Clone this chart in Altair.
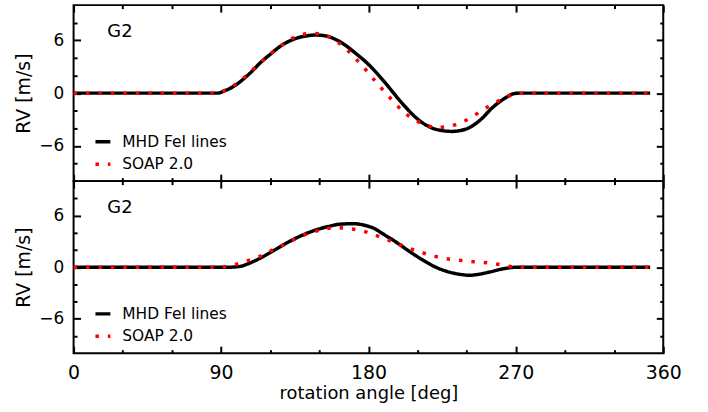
import altair as alt
import pandas as pd

# ---------------- data ----------------
series_names = ["MHD FeI lines", "SOAP 2.0"]

top_mhd_angle = [0, 88, 92, 98, 104, 109, 114, 120, 126, 134, 142, 148, 154, 161, 167, 173, 179, 185, 191,
                 201, 211, 221, 231, 240, 248, 256, 264, 268, 272, 352]
top_mhd_rv = [0, 0, 0.25, 0.8, 1.65, 2.5, 3.45, 4.4, 5.3, 6.1, 6.5, 6.6, 6.5, 6.0, 5.3, 4.4, 3.45, 2.3, 1.0,
              -1.24, -3.1, -4.1, -4.35, -4.05, -3.1, -1.6, -0.5, -0.1, 0, 0]

top_soap_angle = [0, 88, 91, 97.5, 103.4, 109, 114.5, 120.2, 125.9, 131.9, 138.8, 146, 153.6, 160.3, 165.9,
                  171.2, 176.5, 181.3, 186, 191, 196, 201, 207, 214.3, 221.4, 228.7, 235.5, 242.6, 248.9,
                  255.4, 261.8, 268.9, 274, 352]
top_soap_rv = [0, 0, 0.19, 0.82, 1.65, 2.6, 3.5, 4.46, 5.3, 6.07, 6.6, 6.8, 6.56, 5.9, 5.1,
               4.1, 3.07, 2.0, 0.97, -0.08, -1.09, -2.06, -2.9, -3.56, -3.9, -3.8, -3.4, -2.8, -2.0,
               -1.3, -0.67, -0.15, 0, 0]

bot_mhd_angle = [0, 96, 102, 106, 114, 122, 130, 138, 146, 155, 163, 171, 179, 183, 189, 197, 205, 213, 221,
                 229.5, 237.5, 241.5, 245.6, 253.7, 262, 268, 271, 352]
bot_mhd_rv = [0, 0, 0.1, 0.35, 1.05, 1.9, 2.8, 3.57, 4.2, 4.7, 5.0, 5.05, 4.8, 4.55, 3.85, 2.9, 1.83, 0.85, 0,
              -0.58, -0.88, -0.95, -0.88, -0.58, -0.2, -0.03, 0, 0]

bot_soap_angle = [0, 88, 91, 98, 105.6, 112.7, 119.3, 126, 133, 139.6, 146.7, 153.8, 161.3, 168.8, 176, 183,
                  190, 197.5, 204.6, 211.3, 218.6, 225.8, 233, 240.6, 248, 255.6, 263, 270, 352]
bot_soap_rv = [0, 0, 0.03, 0.27, 0.7, 1.17, 1.79, 2.4, 3.07, 3.66, 4.12, 4.47, 4.58, 4.47, 4.23, 3.8,
               3.3, 2.76, 2.2, 1.79, 1.36, 1.05, 0.85, 0.7, 0.58, 0.43, 0.2, 0, 0]

x_minor_ticks = list(range(0, 361, 30))
x_label_values = [0, 90, 180, 270, 360]
y_minor_ticks = list(range(-8, 9, 2))
y_label_values = [-6, 0, 6]
panel_text = "G2"

# ---------------- styling ----------------
FONT = "DejaVu Sans"
W = 593
H_TOP = 177
H_BOT = 173


def make_df(angle, rv, name):
    return pd.DataFrame({"angle": angle, "rv": rv, "series": name})


def panel(df_mhd, df_soap, H, bottom_labels, legend_y):
    xscale = alt.Scale(domain=[0, 360], nice=False, zero=False)
    yscale = alt.Scale(domain=[-10, 10], nice=False, zero=False)
    color_scale = alt.Scale(domain=series_names, range=["#000000", "#ff0000"])
    dash_scale = alt.Scale(domain=series_names, range=[[1, 0], [3.5, 9]])
    legend = alt.Legend(orient="none", legendX=20, legendY=legend_y, title=None,
                        symbolType="stroke", symbolSize=225, symbolStrokeWidth=3.5,
                        labelFont=FONT, labelFontSize=15.5, labelOffset=10, rowPadding=4.5,
                        padding=0, labelColor="black")

    x_tick_size = {"condition": {"test": "datum.value % 90 === 0", "value": 7}, "value": 3.5}
    y_tick_size = {"condition": {"test": "datum.value % 6 === 0", "value": 7}, "value": 3.5}

    # inward ticks on bottom & left borders
    ax_x_b = alt.Axis(orient="top", offset=-H, values=x_minor_ticks, tickSize=x_tick_size,
                      tickWidth=2, tickColor="black", labels=False, domain=False, title=None, grid=False)
    ax_y_l = alt.Axis(orient="right", offset=-W, values=y_minor_ticks, tickSize=y_tick_size,
                      tickWidth=2, tickColor="black", labels=False, domain=False, title=None, grid=False)
    # inward ticks on top & right borders
    ax_x_t = alt.Axis(orient="bottom", offset=-H, values=x_minor_ticks, tickSize=x_tick_size,
                      tickWidth=2, tickColor="black", labels=False, domain=False, title=None, grid=False)
    ax_y_r = alt.Axis(orient="left", offset=-W, values=y_minor_ticks, tickSize=y_tick_size,
                      tickWidth=2, tickColor="black", labels=False, domain=False, title=None, grid=False)
    # labels
    ax_y_lab = alt.Axis(orient="left", values=y_label_values, ticks=False, domain=False, grid=False,
                        labelFont=FONT, labelFontSize=17, labelPadding=10, labelColor="black",
                        title="RV [m/s]", titleFont=FONT, titleFontSize=19, titleFontWeight="normal",
                        titlePadding=5, titleColor="black")
    if bottom_labels:
        ax_x_lab = alt.Axis(orient="bottom", values=x_label_values, ticks=False, domain=False, grid=False,
                            labelFont=FONT, labelFontSize=19, labelPadding=10, labelFlush=False,
                            labelColor="black",
                            title="rotation angle [deg]", titleFont=FONT, titleFontSize=18,
                            titleFontWeight="normal", titlePadding=3, titleColor="black")
    else:
        ax_x_lab = None

    black = alt.Chart(df_mhd).mark_line(strokeWidth=3.5, interpolate="monotone", strokeJoin="round").encode(
        x=alt.X("angle:Q", scale=xscale, axis=ax_x_b),
        y=alt.Y("rv:Q", scale=yscale, axis=ax_y_l),
        color=alt.Color("series:N", scale=color_scale, legend=legend),
        strokeDash=alt.StrokeDash("series:N", scale=dash_scale, legend=legend),
    )
    red = alt.Chart(df_soap).mark_line(strokeWidth=3.5, interpolate="monotone", strokeCap="butt").encode(
        x=alt.X("angle:Q", scale=xscale, axis=ax_x_t),
        y=alt.Y("rv:Q", scale=yscale, axis=ax_y_r),
        color=alt.Color("series:N", scale=color_scale, legend=legend),
        strokeDash=alt.StrokeDash("series:N", scale=dash_scale, legend=legend),
    )
    txt_df = pd.DataFrame({"angle": [20.6], "rv": [6.9], "label": [panel_text]})
    text = alt.Chart(txt_df).mark_text(align="left", baseline="middle", font=FONT, fontSize=18,
                                       color="black").encode(
        x=alt.X("angle:Q", scale=xscale, axis=ax_x_lab),
        y=alt.Y("rv:Q", scale=yscale, axis=ax_y_lab),
        text="label:N",
    )
    return alt.layer(black, red, text).resolve_axis(x="independent", y="independent").properties(
        width=W, height=H)


top = panel(make_df(top_mhd_angle, top_mhd_rv, series_names[0]),
            make_df(top_soap_angle, top_soap_rv, series_names[1]), H_TOP, False, 128)
bottom = panel(make_df(bot_mhd_angle, bot_mhd_rv, series_names[0]),
               make_df(bot_soap_angle, bot_soap_rv, series_names[1]), H_BOT, True, 124)

chart = alt.vconcat(top, bottom, spacing=0, bounds="flush").resolve_scale(
    color="independent", strokeDash="independent"
).configure_view(stroke="black", strokeWidth=2).properties(
    padding={"left": 13, "top": 2, "right": 25, "bottom": 3},
    background="white",
)

chart.save("out.html", embed_options={"renderer": "svg", "actions": False})
